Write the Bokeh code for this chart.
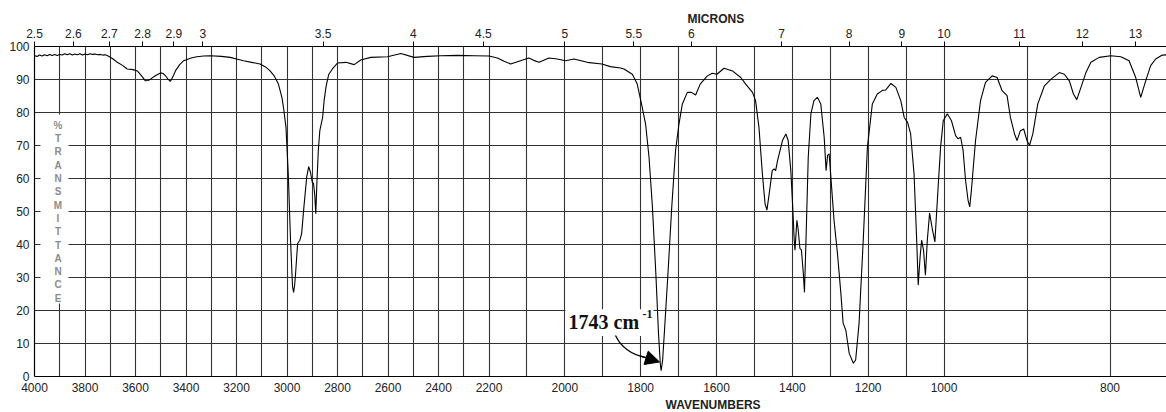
import numpy as np
from bokeh.plotting import figure
from bokeh.models import Range1d, FixedTicker, LinearAxis, Label, Arrow, NormalHead, Title
from bokeh.embed import file_html
from bokeh.resources import INLINE
from bokeh.core.properties import value

# ---------------- data ----------------
wavenumber = [
    4000, 3990, 3980, 3970, 3960, 3950, 3940, 3930, 3920, 3910, 3900, 3890, 3880, 3870, 3860,
    3850, 3840, 3830, 3820, 3810, 3800, 3790, 3780, 3770, 3760, 3750, 3740, 3730, 3720, 3712,
    3690, 3672, 3650, 3633, 3610, 3593, 3575, 3561, 3550, 3541, 3520, 3501, 3490, 3482, 3472,
    3462, 3452, 3442, 3425, 3409, 3380, 3357, 3330, 3304, 3260, 3225, 3200, 3172, 3140, 3107,
    3085, 3067, 3050, 3034, 3020, 3014, 3004, 2995, 2986, 2978, 2974, 2970, 2966, 2958, 2949,
    2942, 2933, 2922, 2914, 2907, 2900, 2895, 2890, 2886, 2882, 2876, 2870, 2859, 2853, 2845,
    2835, 2820, 2800, 2767, 2734, 2708, 2668, 2602, 2549, 2497, 2444, 2391, 2325, 2259, 2200,
    2178, 2160, 2143, 2117, 2095, 2082, 2068, 2042, 2020, 1998, 1976, 1941, 1902, 1880, 1853,
    1844, 1822, 1809, 1796, 1787, 1778, 1769, 1760, 1753, 1748, 1746, 1742, 1736, 1728, 1718,
    1708, 1699, 1690, 1677, 1666, 1655, 1643, 1624, 1611, 1599, 1580, 1558, 1536, 1523, 1505,
    1497, 1488, 1479, 1472, 1467, 1461, 1453, 1448, 1444, 1439, 1426, 1417, 1411, 1404, 1399,
    1395, 1393, 1388, 1385, 1380, 1376, 1371, 1368, 1364, 1358, 1351, 1343, 1334, 1325, 1316,
    1311, 1307, 1303, 1299, 1290, 1281, 1272, 1266, 1259, 1250, 1239, 1233, 1224, 1213, 1202,
    1189, 1176, 1162, 1154, 1140, 1127, 1114, 1105, 1096, 1088, 1079, 1072, 1068, 1063, 1059,
    1054, 1049, 1044, 1038, 1031, 1024, 1016, 1009, 1002, 996, 991, 986, 983, 980, 977,
    974, 971, 969, 967, 962, 956, 950, 942, 936, 930, 924, 920, 915, 912, 908,
    904, 900, 897, 893, 887, 879, 871, 861, 855, 849, 844, 840, 835, 829, 823,
    813, 799, 787, 777, 769, 763, 757, 751, 745, 737, 731,
]
transmittance = [
    97.2, 97.0, 97.4, 97.1, 97.5, 97.2, 97.6, 97.3, 97.6, 97.3, 97.6, 97.4, 97.8, 97.5, 97.8,
    97.4, 97.7, 97.5, 97.8, 97.4, 97.7, 97.5, 97.8, 97.6, 97.7, 97.5, 97.6, 97.4, 97.5, 97.3,
    96.3, 95.2, 94.2, 93.2, 93.0, 92.6, 91.0, 89.6, 89.7, 90.1, 91.2, 92.0, 91.8, 91.2, 90.2,
    89.4, 90.8, 92.6, 94.5, 95.7, 96.5, 96.9, 97.1, 97.2, 97.0, 96.7, 96.2, 95.7, 95.2, 94.7,
    93.8, 92.6, 91.0, 88.6, 84.5, 81.6, 75.5, 61.4, 41.3, 27.2, 25.5, 27.5, 31.2, 40.3, 41.3,
    43.3, 51.4, 60.4, 63.6, 61.9, 58.9, 58.5, 55.0, 49.3, 58.0, 68.5, 74.5, 78.5, 83.6, 88.0,
    91.5, 93.2, 95.0, 95.2, 94.5, 95.9, 96.7, 96.9, 97.9, 96.7, 97.0, 97.2, 97.3, 97.2, 97.1,
    96.5, 95.5, 94.7, 95.7, 96.5, 95.8, 95.2, 96.5, 96.2, 95.7, 96.2, 95.2, 94.7, 93.9, 93.5,
    93.2, 91.6, 88.6, 81.6, 76.5, 66.5, 51.4, 31.2, 13.1, 3.5, 1.8, 5.0, 16.1, 31.2, 51.4,
    68.5, 76.5, 82.6, 86.1, 86.1, 85.3, 88.6, 91.1, 91.9, 91.6, 93.4, 92.6, 90.6, 88.6, 86.1,
    83.6, 75.5, 61.4, 52.4, 50.4, 55.4, 62.4, 62.9, 62.4, 65.4, 71.5, 73.5, 71.5, 62.4, 51.4,
    41.3, 38.3, 47.3, 45.0, 38.8, 38.3, 31.2, 25.5, 41.3, 66.5, 79.6, 83.6, 84.6, 82.6, 72.5,
    62.4, 67.0, 67.5, 61.4, 47.3, 37.3, 25.2, 16.1, 14.1, 7.0, 4.0, 5.0, 16.1, 41.3, 69.5,
    82.6, 85.6, 86.7, 86.8, 88.8, 87.6, 83.6, 78.5, 77.0, 73.5, 61.4, 41.3, 27.7, 36.3, 41.3,
    38.3, 30.7, 41.3, 49.5, 44.8, 40.8, 56.4, 69.5, 77.5, 79.6, 77.5, 73.0, 72.0, 72.5, 68.5,
    59.4, 53.4, 51.4, 56.4, 71.5, 83.6, 89.1, 91.1, 90.6, 86.6, 85.1, 78.5, 73.5, 71.5, 74.5,
    75.0, 71.5, 70.0, 73.5, 82.6, 88.1, 90.1, 92.1, 91.6, 89.6, 85.6, 83.9, 87.6, 92.1, 95.2,
    96.7, 97.2, 96.9, 95.7, 90.6, 84.6, 89.6, 94.2, 96.2, 97.4, 97.5,
]

wavenumber_ticks = [4000, 3800, 3600, 3400, 3200, 3000, 2800, 2600, 2400, 2200,
                    2000, 1800, 1600, 1400, 1200, 1000, 800]
grid_wavenumbers = list(range(3900, 700, -100))
micron_ticks = [2.5, 2.6, 2.7, 2.8, 2.9, 3, 3.5, 4, 4.5, 5, 5.5, 6, 7, 8, 9, 10, 11, 12, 13]
micron_labels = ["2.5", "2.6", "2.7", "2.8", "2.9", "3", "3.5", "4", "4.5", "5", "5.5",
                 "6", "7", "8", "9", "10", "11", "12", "13"]
percent_ticks = [0, 10, 20, 30, 40, 50, 60, 70, 80, 90, 100]
ylabel_letters = list("%TRANSMITTANCE")
peak_label = "1743 cm"
peak_sup = "-1"

# ---------------- piecewise-linear chart-paper wavenumber scale ----------------
BP_W = [700.0, 800.0, 1000.0, 2200.0, 4000.0]
BP_U = [1158.5, 1075.5, 909.5, 454.5, 0.0]


def to_u(w):
    return [round(float(v), 3) for v in np.interp(np.asarray(w, dtype=float), BP_W, BP_U)]


xs = to_u(wavenumber)
wn_tick_u = to_u(wavenumber_ticks)
grid_u = to_u(grid_wavenumbers)
mu_tick_u = to_u([10000.0 / m for m in micron_ticks])

FONT = "Liberation Sans"
TXT = "#222222"

p = figure(width=1166, height=412, x_range=Range1d(0, 1132), y_range=Range1d(0, 100),
           output_backend="svg", toolbar_location=None,
           min_border_left=34, min_border_right=0, min_border_top=46, min_border_bottom=36)
p.outline_line_color = None
p.background_fill_color = "white"

# top title (MICRONS)
p.title.text = "MICRONS"
p.title.align = "left"
p.title.offset = 653
p.title.standoff = 0
p.title.text_font = FONT
p.title.text_font_size = "12px"
p.title.text_font_style = "bold"
p.title.text_color = TXT

# bottom axis (wavenumbers)
bx = p.below[0]
bx.ticker = FixedTicker(ticks=wn_tick_u)
bx.major_label_overrides = {u: str(w) for u, w in zip(wn_tick_u, wavenumber_ticks)}
bx.major_tick_out = 0
bx.major_tick_in = 0
bx.minor_tick_out = 0
bx.minor_tick_in = 0
bx.major_label_standoff = 6
bx.axis_line_color = "black"
bx.axis_line_width = 1.2
bx.major_label_text_font = FONT
bx.major_label_text_font_size = "12px"
bx.major_label_text_color = TXT

p.add_layout(Title(text="WAVENUMBERS", align="left", offset=631, standoff=2,
                   text_font=FONT, text_font_size="12px", text_font_style="bold",
                   text_color=TXT), "below")

# left axis (% transmittance)
ly = p.left[0]
ly.ticker = FixedTicker(ticks=percent_ticks)
ly.major_tick_out = 0
ly.major_tick_in = 0
ly.minor_tick_out = 0
ly.minor_tick_in = 0
ly.major_label_standoff = 5
ly.axis_line_color = "black"
ly.axis_line_width = 1.2
ly.major_label_text_font = FONT
ly.major_label_text_font_size = "12px"
ly.major_label_text_color = TXT

# top axis (microns)
top = LinearAxis(ticker=FixedTicker(ticks=mu_tick_u),
                 major_label_overrides={u: s for u, s in zip(mu_tick_u, micron_labels)},
                 major_tick_out=5, major_tick_in=0, minor_tick_out=0, minor_tick_in=0,
                 major_label_standoff=4, axis_line_color="black", axis_line_width=1.2,
                 major_tick_line_color="black", major_label_text_font=FONT,
                 major_label_text_font_size="12px", major_label_text_color=TXT)
p.add_layout(top, "above")

# grids
p.xgrid.ticker = FixedTicker(ticks=grid_u)
p.ygrid.ticker = FixedTicker(ticks=percent_ticks[1:-1])
for g in (p.xgrid, p.ygrid):
    g.grid_line_color = "#333333"
    g.grid_line_width = 1.1
    g.grid_line_alpha = 1.0

# % TRANSMITTANCE stacked label with white backing
p.quad(left=[6], right=[34], top=[79.4], bottom=[22.1], fill_color="white", line_color=None)
ly_pos = [76.1 - 4.03 * i for i in range(len(ylabel_letters))]
p.text(x=[23.5] * len(ylabel_letters), y=ly_pos, text=ylabel_letters,
       text_font=value(FONT), text_font_size="10px", text_font_style="bold",
       text_color="#8c8c8c", text_align="center", text_baseline="middle")

# annotation backing box
p.quad(left=[531], right=[619], top=[20.4], bottom=[12.3], fill_color="white", line_color=None)

# spectrum
p.line(xs, transmittance, line_color="black", line_width=1.1)

# peak annotation
p.add_layout(Label(x=534, y=16.4, text=peak_label, text_align="left", text_baseline="middle",
                   text_font="Liberation Serif", text_font_size="20px", text_font_style="bold",
                   text_color="#111111"))
p.add_layout(Label(x=608, y=18.9, text=peak_sup, text_align="left", text_baseline="middle",
                   text_font="Liberation Serif", text_font_size="12px", text_font_style="bold",
                   text_color="#111111"))
p.bezier(x0=[581], y0=[12.4], x1=[611], y1=[5.8], cx0=[587], cy0=[8.6], cx1=[597], cy1=[6.6],
         line_color="black", line_width=1.3)
p.add_layout(Arrow(end=NormalHead(size=14, fill_color="black", line_color="black"),
                   x_start=606, y_start=6.2, x_end=625, y_end=4.4,
                   line_color="black", line_width=1.3))

open("out.html", "w").write(file_html(p, INLINE))
